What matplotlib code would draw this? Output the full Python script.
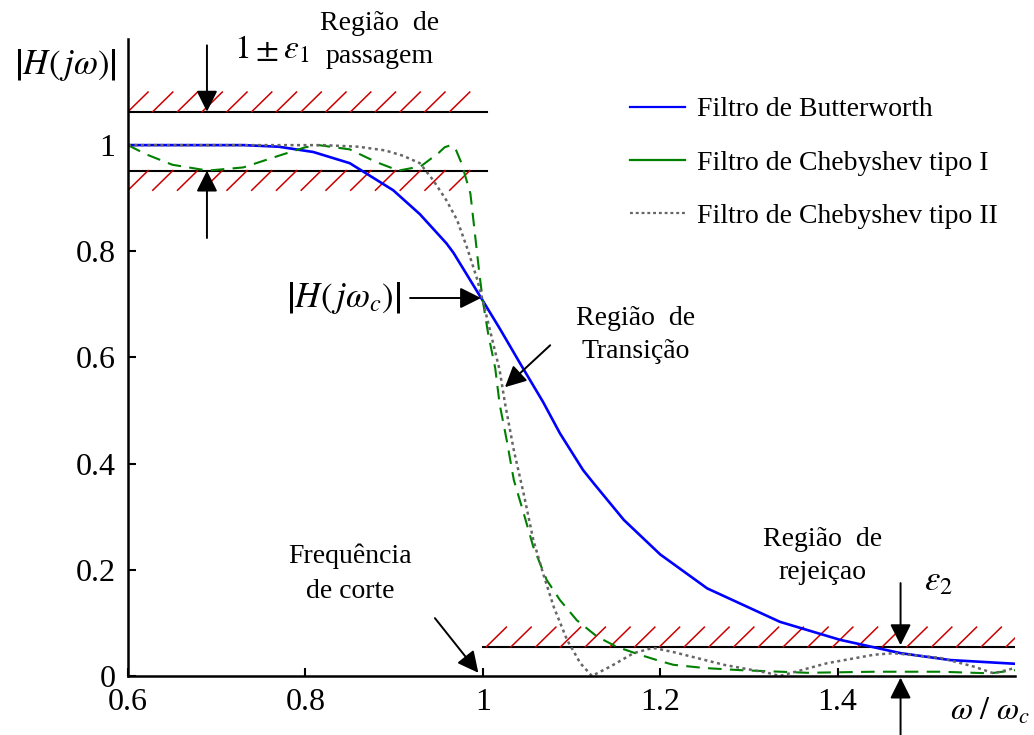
import numpy as np
from matplotlib import pyplot as plt
from matplotlib.lines import Line2D

# curves
bw_x = [0.600, 0.730, 0.770, 0.809, 0.850, 0.899, 0.929, 0.959, 0.967, 1.000, 1.020, 1.042,
        1.068, 1.087, 1.113, 1.125, 1.159, 1.200, 1.253, 1.335, 1.403, 1.471, 1.527, 1.600]
bw_y = [1.000, 1.000, 0.997, 0.987, 0.966, 0.915, 0.870, 0.815, 0.797, 0.707, 0.652, 0.589,
        0.516, 0.457, 0.388, 0.363, 0.294, 0.229, 0.165, 0.102, 0.068, 0.043, 0.030, 0.023]

ch1_x = [0.600, 0.620, 0.650, 0.690, 0.730, 0.770, 0.800, 0.815, 0.850, 0.880, 0.905, 0.930,
         0.950, 0.957, 0.964, 0.970, 0.976, 0.986, 0.991, 0.996, 1.000, 1.006, 1.014, 1.019,
         1.027, 1.035, 1.046, 1.057, 1.072, 1.087, 1.106, 1.129, 1.151, 1.177, 1.200, 1.215,
         1.250, 1.290, 1.366, 1.441, 1.516, 1.572, 1.600]
ch1_y = [1.000, 0.983, 0.963, 0.952, 0.958, 0.980, 0.996, 1.000, 0.992, 0.968, 0.952, 0.960,
         0.985, 0.996, 1.000, 0.990, 0.966, 0.909, 0.835, 0.760, 0.707, 0.645, 0.580, 0.512,
         0.444, 0.369, 0.307, 0.243, 0.181, 0.143, 0.105, 0.074, 0.055, 0.040, 0.028, 0.021,
         0.015, 0.011, 0.006, 0.008, 0.008, 0.005, 0.011]

ch2_x = [0.600, 0.820, 0.860, 0.890, 0.910, 0.929, 0.944, 0.959, 0.971, 0.982, 0.993, 1.000,
         1.008, 1.019, 1.025, 1.035, 1.046, 1.057, 1.068, 1.080, 1.095, 1.110, 1.123, 1.144,
         1.170, 1.192, 1.215, 1.272, 1.321, 1.335, 1.388, 1.441, 1.463, 1.516, 1.553, 1.576,
         1.600]
ch2_y = [1.000, 1.000, 0.997, 0.990, 0.980, 0.966, 0.934, 0.896, 0.859, 0.808, 0.751, 0.707,
         0.652, 0.576, 0.514, 0.425, 0.344, 0.256, 0.193, 0.130, 0.068, 0.024, 0.000, 0.018,
         0.043, 0.053, 0.045, 0.021, 0.006, 0.000, 0.024, 0.040, 0.043, 0.034, 0.018, 0.005,
         0.015]

upper_lim = 1.063
lower_lim = 0.952
stop_lim = 0.055

labels = ['Filtro de Butterworth', 'Filtro de Chebyshev tipo I', 'Filtro de Chebyshev tipo II']
xticks = [0.6, 0.8, 1.0, 1.2, 1.4]
xtick_labels = ['0.6', '0.8', '1', '1.2', '1.4']
yticks = [0, 0.2, 0.4, 0.6, 0.8, 1.0]
ytick_labels = ['0', '0.2', '0.4', '0.6', '0.8', '1']

plt.rcParams['font.family'] = ['Liberation Serif', 'DejaVu Serif']
plt.rcParams['mathtext.fontset'] = 'stix'

fig = plt.figure(figsize=(10.34, 7.35), dpi=100)
ax = fig.add_axes([0.1238, 0.0803, 0.8578, 0.8667])
ax.set_xlim(0.6, 1.6)
ax.set_ylim(0, 1.2)

# specification bands
def hatch(x0, x1, y, up):
    step, dx, dy = 0.0279, 0.0226, 0.037
    for xs in np.arange(x0, x1, step):
        if up:
            ax.plot([xs, xs + dx], [y, y + dy], color='#cc0000', lw=1.1)
        else:
            ax.plot([xs, xs + dx], [y - dy, y], color='#cc0000', lw=1.1)

ax.plot([0.6, 1.005], [upper_lim, upper_lim], color='k', lw=1.5)
ax.plot([0.6, 1.005], [lower_lim, lower_lim], color='k', lw=1.5)
ax.plot([1.0, 1.6], [stop_lim, stop_lim], color='k', lw=1.5)
hatch(0.6, 0.99, upper_lim, True)
hatch(0.6, 0.99, lower_lim, False)
hatch(1.004, 1.6, stop_lim, True)

ax.plot(bw_x, bw_y, color='blue', lw=1.9)
ax.plot(ch1_x, ch1_y, color='green', lw=1.5, dashes=(6.5, 4))
ax.plot(ch2_x, ch2_y, color='#666666', lw=1.8, dashes=(1.2, 1.4))

handles = [Line2D([], [], color='blue', lw=1.6),
           Line2D([], [], color='green', lw=1.6),
           Line2D([], [], color='#666666', lw=1.6, dashes=(1.3, 1.3))]
ax.legend(handles, labels, loc='upper left', bbox_to_anchor=(630 / 1034, 1 - 97 / 735),
          bbox_transform=fig.transFigure, frameon=False, fontsize=20, handlelength=1.98,
          handletextpad=0.43, labelspacing=1.0, borderpad=0, borderaxespad=0)

ax.spines['top'].set_visible(False)
ax.spines['right'].set_visible(False)
ax.spines['left'].set_linewidth(1.8)
ax.spines['bottom'].set_linewidth(1.8)
ax.set_xticks(xticks)
ax.set_xticklabels(xtick_labels)
ax.set_yticks(yticks)
ax.set_yticklabels(ytick_labels)
ax.tick_params(direction='in', length=6, width=1.5, labelsize=23, pad=9)

# texts
ax.text(0.530, 1.151, r'$\left|H\left(\,j\omega\right)\right|$', fontsize=25,
        ha='center', va='center', clip_on=False)
ax.text(0.762, 1.179, r'$1\pm\varepsilon_1$', fontsize=24, ha='center', va='center',
        clip_on=False)
ax.text(0.884, 1.198, 'Região  de\npassagem', fontsize=20, ha='center', va='center',
        linespacing=1.45, clip_on=False)
ax.text(0.843, 0.712, r'$\left|H\left(\,j\omega_c\right)\right|$', fontsize=25,
        ha='center', va='center')
ax.text(1.172, 0.642, 'Região  de\nTransição', fontsize=20, ha='center', va='center',
        linespacing=1.45)
ax.text(0.850, 0.193, 'Frequência\nde corte', fontsize=20, ha='center', va='center',
        linespacing=1.5)
ax.text(1.383, 0.226, 'Região  de\nrejeiçao', fontsize=20, ha='center', va='center',
        linespacing=1.4)
ax.text(1.514, 0.177, r'$\varepsilon_2$', fontsize=25, ha='center', va='center')
ax.text(1.572, -0.068, r'$\omega\ /\ \omega_c$', fontsize=23, ha='center', va='center',
        clip_on=False)

# arrows
arr = dict(arrowstyle='-|>', color='k', lw=1.4, mutation_scale=32, shrinkA=0, shrinkB=0)
ax.annotate('', xy=(0.689, upper_lim), xytext=(0.689, 1.188), arrowprops=arr,
            annotation_clip=False)
ax.annotate('', xy=(0.689, lower_lim), xytext=(0.689, 0.825), arrowprops=arr)
ax.annotate('', xy=(0.998, 0.712), xytext=(0.918, 0.712), arrowprops=arr)
ax.annotate('', xy=(1.025, 0.544), xytext=(1.076, 0.623), arrowprops=arr)
ax.annotate('', xy=(0.995, 0.006), xytext=(0.946, 0.109), arrowprops=arr)
ax.annotate('', xy=(1.471, stop_lim + 0.003), xytext=(1.471, 0.175), arrowprops=arr)
ax.annotate('', xy=(1.471, -0.003), xytext=(1.471, -0.111), arrowprops=arr,
            annotation_clip=False)

plt.savefig('out.png', dpi=100)
